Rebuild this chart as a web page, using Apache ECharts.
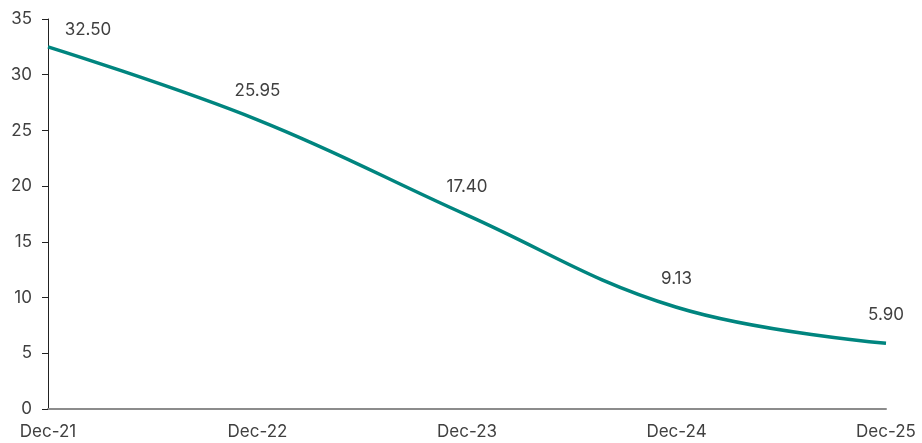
<!DOCTYPE html>
<html>
<head>
<meta charset="utf-8">
<script src="https://cdn.jsdelivr.net/npm/echarts@6/dist/echarts.min.js"></script>
<style>
  html, body { margin: 0; padding: 0; background: #fff; }
  #main { width: 922px; height: 443px; }
</style>
</head>
<body>
<div id="main"></div>
<script>
var categories = ['Dec-21', 'Dec-22', 'Dec-23', 'Dec-24', 'Dec-25'];
var values = [32.50, 25.95, 17.40, 9.13, 5.90];
var yTicks = [0, 5, 10, 15, 20, 25, 30, 35];

var chartDom = document.getElementById('main');
var myChart = echarts.init(chartDom);
var font = 'Inter, "Noto Sans", sans-serif';

// first label sits to the right of the axis
var data = values.map(function (v, i) {
  var item = { value: v };
  if (i === 0) {
    item.label = { offset: [40, 12] };
  }
  return item;
});

var option = {
  animation: false,
  grid: { left: 48, right: 36, top: 19, bottom: 34 },
  xAxis: {
    type: 'category',
    data: categories,
    boundaryGap: false,
    axisLine: { lineStyle: { color: '#8c8c8c', width: 2 } },
    axisTick: { show: false },
    axisLabel: { color: '#404040', fontFamily: font, fontSize: 17, margin: 14 }
  },
  yAxis: {
    type: 'value',
    min: yTicks[0],
    max: yTicks[yTicks.length - 1],
    interval: 5,
    splitLine: { show: false },
    axisLine: { show: true, lineStyle: { color: '#222', width: 1 } },
    axisTick: { show: true, length: 6, lineStyle: { color: '#222' } },
    axisLabel: { color: '#404040', fontFamily: font, fontSize: 17, margin: 16 }
  },
  series: [
    {
      type: 'line',
      data: data,
      smooth: 0.4,
      symbol: 'circle',
      symbolSize: 2,
      showSymbol: true,
      itemStyle: { color: 'rgba(0,0,0,0)', borderWidth: 0 },
      lineStyle: { color: '#00857f', width: 3.5 },
      label: {
        show: true,
        position: 'top',
        distance: 19,
        color: '#404040',
        fontFamily: font,
        fontSize: 17,
        formatter: function (p) { return p.value.toFixed(2); }
      }
    }
  ]
};

option && myChart.setOption(option);
</script>
</body>
</html>
